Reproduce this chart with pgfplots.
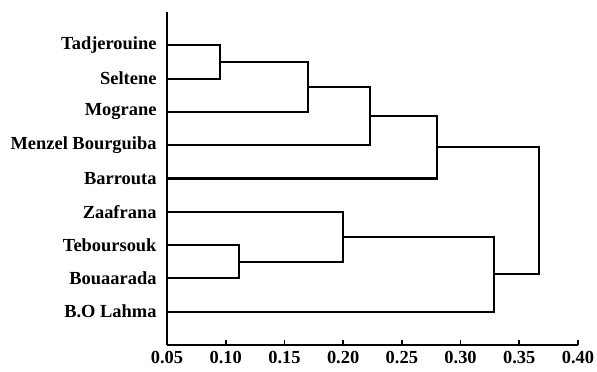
\documentclass[border=0pt]{standalone}
\usepackage{fontspec}
\setmainfont{Liberation Serif}
\usepackage{pgfplots}
\pgfplotsset{compat=1.18}
\begin{document}
\begin{tikzpicture}
\begin{axis}[
  scale only axis, width=411bp, height=333bp,
  xmin=0.05, xmax=0.40, ymin=0, ymax=10,
  axis x line*=bottom, axis y line*=left,
  axis line style={line width=2.2pt, black},
  xtick={0.05,0.10,0.15,0.20,0.25,0.30,0.35,0.40},
  xticklabels={0.05,0.10,0.15,0.20,0.25,0.30,0.35,0.40},
  ytick={1,2,3,4,5,6,7,8,9},
  yticklabels={B.O Lahma,Bouaarada,Teboursouk,Zaafrana,Barrouta,Menzel Bourguiba,Mograne,Seltene,Tadjerouine},
  y tick style={draw=none},
  x tick style={line width=1.6pt, black},
  tick align=inside, major tick length=5bp,
  ticklabel style={font=\fontsize{18.5}{21}\selectfont\bfseries},
  yticklabel style={xshift=-7bp},
  xticklabel style={yshift=-3bp},
  clip=false,
  dend/.style={black, solid, line width=2.2pt, mark=none, line join=miter},
]
\addplot[dend] coordinates {(0.05,9) (0.095,9) (0.095,8) (0.05,8)};
\addplot[dend] coordinates {(0.095,8.5) (0.17,8.5) (0.17,7) (0.05,7)};
\addplot[dend] coordinates {(0.17,7.75) (0.223,7.75) (0.223,6) (0.05,6)};
\addplot[dend] coordinates {(0.223,6.875) (0.28,6.875) (0.28,5) (0.05,5)};
\addplot[dend] coordinates {(0.05,3) (0.111,3) (0.111,2) (0.05,2)};
\addplot[dend] coordinates {(0.05,4) (0.2,4) (0.2,2.5) (0.111,2.5)};
\addplot[dend] coordinates {(0.2,3.25) (0.3285,3.25) (0.3285,1) (0.05,1)};
\addplot[dend] coordinates {(0.28,5.9375) (0.367,5.9375) (0.367,2.125) (0.3285,2.125)};
\end{axis}
\pgfresetboundingbox
\path (-167bp,-27bp) rectangle (430bp,345bp);
\end{tikzpicture}
\end{document}
